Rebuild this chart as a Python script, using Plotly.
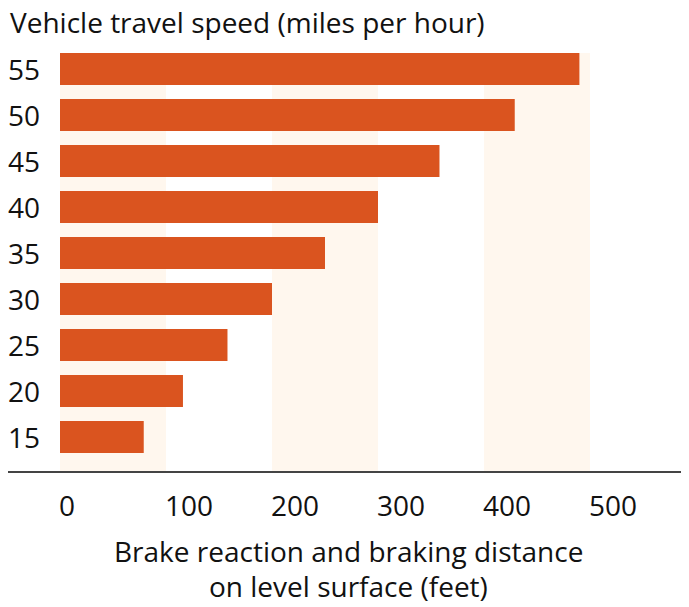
import plotly.graph_objects as go

speeds = ["15", "20", "25", "30", "35", "40", "45", "50", "55"]
distances = [79, 116, 158, 200, 250, 300, 358, 429, 490]
band_starts = [0, 200, 400]
band_width = 100
x_ticks = [0, 100, 200, 300, 400, 500]
title_text = "Vehicle travel speed (miles per hour)"
xaxis_lines = ["Brake reaction and braking distance", "on level surface (feet)"]

FONT = "Open Sans"
BAR = "#DA541F"
BAND = "#FFF7EE"
TXT = "#111111"
FS = 28

fig = go.Figure()
fig.add_trace(go.Bar(
    x=distances, y=list(range(len(speeds))), orientation="h",
    marker=dict(color=BAR, line=dict(width=0)), width=0.696,
    hoverinfo="skip",
))

for b in band_starts:
    fig.add_shape(type="rect", xref="x", yref="paper", x0=b, x1=b + band_width,
                  y0=0, y1=1, fillcolor=BAND, line=dict(width=0), layer="below")

annotations = []
for i, s in enumerate(speeds):
    annotations.append(dict(text=s, xref="paper", yref="y", x=0, y=i, xshift=-2,
                            xanchor="left", yanchor="middle", showarrow=False,
                            font=dict(size=FS, family=FONT, color=TXT)))
for v in x_ticks:
    annotations.append(dict(text=str(v), xref="x", yref="paper", x=v, y=0, xshift=-3,
                            yshift=-34, xanchor="left", yanchor="middle", showarrow=False,
                            font=dict(size=FS, family=FONT, color=TXT)))
annotations.append(dict(text=title_text, xref="paper", yref="paper", x=0, y=1, yshift=31,
                        xanchor="left", yanchor="middle", showarrow=False,
                        font=dict(size=FS, family=FONT, color=TXT)))
for k, line in enumerate(xaxis_lines):
    annotations.append(dict(text=line, xref="paper", yref="paper", x=0.5, y=0,
                            yshift=-80 - 35 * k, xanchor="center", yanchor="middle",
                            showarrow=False, font=dict(size=FS, family=FONT, color=TXT)))

fig.update_layout(
    width=681, height=599,
    margin=dict(l=0, r=0, t=45, b=136, autoexpand=False),
    paper_bgcolor="white", plot_bgcolor="white",
    showlegend=False,
    font=dict(family=FONT, color=TXT, size=FS),
    xaxis=dict(range=[-49.06, 593.4], showticklabels=False,
               showgrid=False, zeroline=False, showline=True, linecolor="#444444",
               linewidth=2, ticks="", automargin=False),
    yaxis=dict(range=[-0.739, 8.348], showticklabels=False,
               showgrid=False, zeroline=False, showline=False, ticks="", automargin=False),
    annotations=annotations,
)

fig.write_html("out.html")
